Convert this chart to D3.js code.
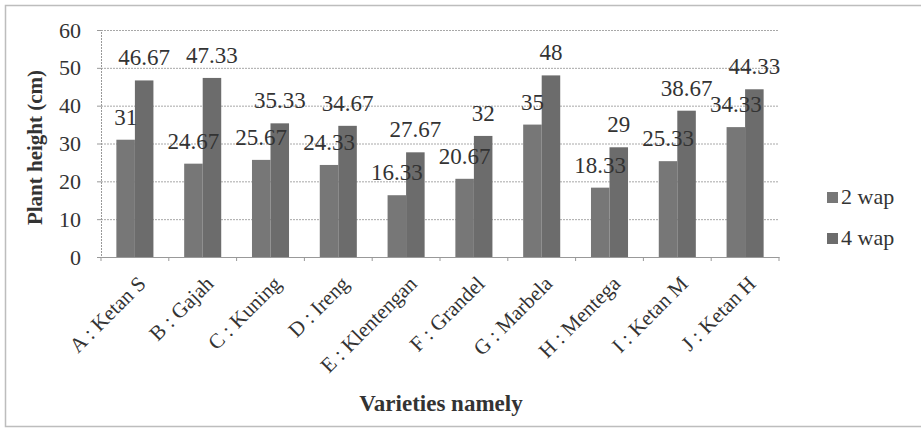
<!DOCTYPE html>
<html>
<head>
<meta charset="utf-8">
<script src="https://cdn.jsdelivr.net/npm/d3@7"></script>
<style>
  html, body { margin: 0; padding: 0; background: #fff; }
  svg text { font-family: "Liberation Serif", "Times New Roman", serif !important; fill: #333; }
</style>
</head>
<body>
<svg id="chart" width="921" height="428"></svg>
<script>
const categories = ["A : Ketan S", "B : Gajah", "C : Kuning", "D : Ireng", "E : Klentengan",
                    "F : Grandel", "G : Marbela", "H : Mentega", "I  : Ketan M", "J : Ketan H"];
const wap2 = [31, 24.67, 25.67, 24.33, 16.33, 20.67, 35, 18.33, 25.33, 34.33];
const wap4 = [46.67, 47.33, 35.33, 34.67, 27.67, 32, 48, 29, 38.67, 44.33];
const wap2Labels = ["31", "24.67", "25.67", "24.33", "16.33", "20.67", "35", "18.33", "25.33", "34.33"];
const wap4Labels = ["46.67", "47.33", "35.33", "34.67", "27.67", "32", "48", "29", "38.67", "44.33"];
const seriesNames = ["2 wap", "4 wap"];
const yTicks = [0, 10, 20, 30, 40, 50, 60];

(function () {
const FONT = '"Liberation Serif", "Times New Roman", serif';
const svg = d3.select("#chart");
const colors = { "2 wap": "#777777", "4 wap": "#6c6c6c" };

// outer frame (left, top, bottom)
svg.append("path")
  .attr("d", "M921,5.5 H5.5 V426.5 H921")
  .attr("fill", "none").attr("stroke", "#bdbdbd").attr("stroke-width", 1.5);

const pL = 101, pR = 779, pT = 30, pB = 257;
const x = d3.scaleBand().domain(categories).range([pL, pR]).padding(0);
const xs = d3.scaleBand().domain(seriesNames).range([0, x.bandwidth()]).paddingInner(0).paddingOuter(0.83);
const y = d3.scaleLinear().domain([0, 60]).range([pB, pT]);

// gridlines
svg.append("g").selectAll("line").data(yTicks.filter(d => d > 0)).join("line")
  .attr("x1", pL).attr("x2", pR)
  .attr("y1", d => y(d) + 0.5).attr("y2", d => y(d) + 0.5)
  .attr("stroke", "#a8a8a8").attr("stroke-width", 1).attr("stroke-dasharray", "2,1");

// y axis
const yAxis = svg.append("g").attr("transform", `translate(${pL},0)`)
  .call(d3.axisLeft(y).tickValues(yTicks).tickSize(4).tickPadding(16));
yAxis.attr("font-family", FONT);
yAxis.select(".domain").attr("stroke", "#999").attr("stroke-dasharray", "2,1");
yAxis.selectAll(".tick line").attr("stroke", "#999");
yAxis.selectAll(".tick text").attr("font-size", 22).attr("fill", "#333")
  .style("font-family", FONT);

// x axis
const xAxis = svg.append("g").attr("transform", `translate(0,${pB})`)
  .call(d3.axisBottom(x).tickSize(0).tickFormat(""));
xAxis.select(".domain").attr("stroke", "#999");
svg.append("g").selectAll("line").data(categories.concat(["__end"])).join("line")
  .attr("x1", (d, i) => pL + i * x.bandwidth()).attr("x2", (d, i) => pL + i * x.bandwidth())
  .attr("y1", pB).attr("y2", pB + 4).attr("stroke", "#999");

// category labels
svg.append("g").selectAll("text").data(categories).join("text")
  .attr("transform", d => `translate(${x(d) + x.bandwidth() / 2 + 12},${pB + 28}) rotate(-45)`)
  .attr("text-anchor", "end").attr("font-size", 21).attr("fill", "#333")
  .style("font-family", FONT)
  .text(d => d);

// bars
const rows = categories.map((c, i) => ({ c, vals: [
  { s: "2 wap", v: wap2[i], l: wap2Labels[i] },
  { s: "4 wap", v: wap4[i], l: wap4Labels[i] }] }));
const grp = svg.append("g").selectAll("g").data(rows).join("g")
  .attr("transform", d => `translate(${x(d.c)},0)`);
grp.selectAll("rect").data(d => d.vals).join("rect")
  .attr("x", d => xs(d.s)).attr("width", xs.bandwidth())
  .attr("y", d => y(d.v)).attr("height", d => pB - y(d.v))
  .attr("fill", d => colors[d.s]);
grp.selectAll("text").data(d => d.vals).join("text")
  .attr("x", d => xs(d.s) + xs.bandwidth() / 2)
  .attr("y", d => y(d.v) - 15)
  .attr("text-anchor", "middle").attr("font-size", 23).attr("fill", "#333")
  .style("font-family", FONT)
  .text(d => d.l);

// axis titles
svg.append("text")
  .attr("transform", `translate(42,${(pT + pB) / 2 + 4}) rotate(-90)`)
  .attr("text-anchor", "middle").attr("font-size", 21).attr("font-weight", "bold")
  .style("font-family", FONT)
  .attr("fill", "#333").text("Plant height (cm)");
svg.append("text")
  .attr("x", 441).attr("y", 411)
  .attr("text-anchor", "middle").attr("font-size", 23).attr("font-weight", "bold")
  .style("font-family", FONT)
  .attr("fill", "#333").text("Varieties namely");

// legend
const lg = svg.append("g").selectAll("g").data(seriesNames).join("g")
  .attr("transform", (d, i) => `translate(827,${197 + i * 41})`);
lg.append("rect").attr("x", 0).attr("y", -5).attr("width", 11).attr("height", 11)
  .attr("fill", d => colors[d]);
lg.append("text").attr("x", 14).attr("y", 7).attr("font-size", 22).attr("fill", "#333")
  .style("font-family", FONT)
  .text(d => d);
})();
</script>
</body>
</html>
